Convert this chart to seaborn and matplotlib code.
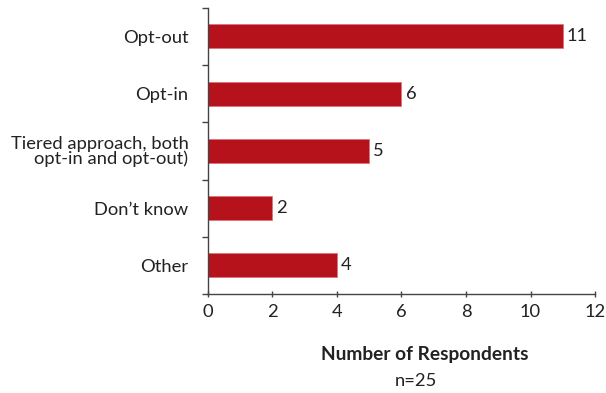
import matplotlib
matplotlib.use("Agg")
import matplotlib.pyplot as plt
import seaborn as sns
import pandas as pd
from matplotlib.ticker import FixedLocator

categories = ["Opt-out", "Opt-in", "Tiered approach, both\nopt-in and opt-out)", "Don\u2019t know", "Other"]
respondents = [11, 6, 5, 2, 4]
x_ticks = [0, 2, 4, 6, 8, 10, 12]

df = pd.DataFrame({"category": categories, "count": respondents})

sns.set_theme(style="white")
plt.rcParams["font.family"] = ["Lato", "DejaVu Sans"]

ink = "#222222"
bar_color = "#B5121B"
fs = 13.2

fig = plt.figure(figsize=(6.06, 3.93), dpi=100)
ax = fig.add_axes([0.343, 0.252, 0.639, 0.728])

sns.barplot(data=df, y="category", x="count", orient="h", color=bar_color,
            width=0.42, saturation=1, ax=ax, edgecolor="#d9707a", linewidth=0.5)

for cont in ax.containers:
    ax.bar_label(cont, labels=[str(v) for v in respondents], padding=3,
                 fontsize=fs, color=ink)

ax.set_xlim(0, 12)
ax.set_ylim(4.5, -0.5)
ax.set_xticks(x_ticks)
ax.set_xticklabels([str(t) for t in x_ticks], fontsize=fs, color=ink)
ax.set_yticks(range(len(categories)))
ax.set_yticklabels(categories, fontsize=fs, color=ink, linespacing=0.9)
ax.yaxis.set_minor_locator(FixedLocator([i - 0.5 for i in range(len(categories) + 1)]))
ax.tick_params(axis="y", which="major", length=0, pad=14)
ax.tick_params(axis="y", which="minor", length=4, width=1, color="#444444", direction="out", left=True)
ax.tick_params(axis="x", which="major", length=5, width=1, color="#444444", direction="inout", pad=5, bottom=True)
ax.set_xlabel("")
ax.set_ylabel("")

for side in ["top", "right"]:
    ax.spines[side].set_visible(False)
for side in ["left", "bottom"]:
    ax.spines[side].set_color("#444444")
    ax.spines[side].set_linewidth(1)

fig.text(0.701, 0.099, "Number of Respondents", ha="center", va="center",
         fontsize=13.8, fontweight="bold", color=ink)
fig.text(0.686, 0.030, "n=25", ha="center", va="center", fontsize=fs, color=ink)

fig.savefig("out.png", dpi=100, facecolor="white")
